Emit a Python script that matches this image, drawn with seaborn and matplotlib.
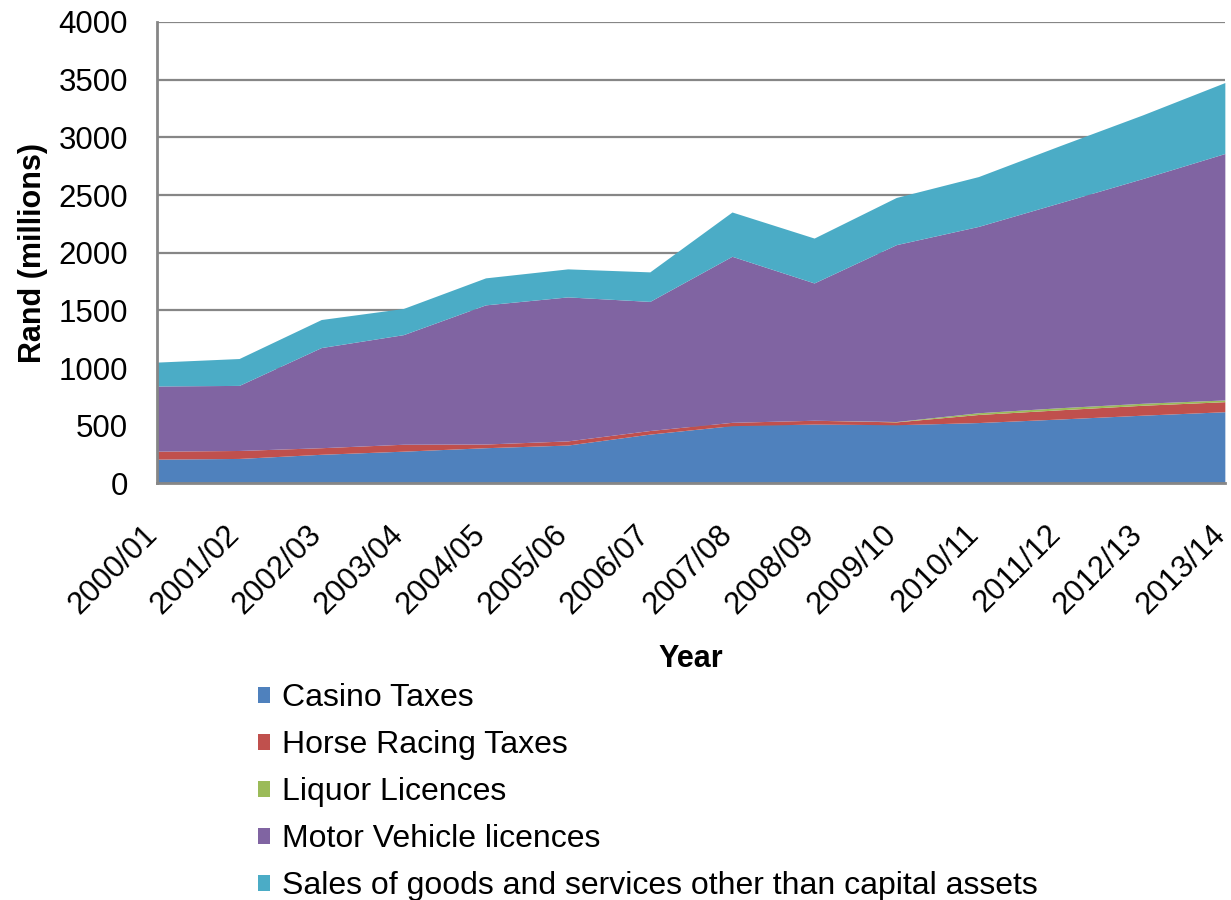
import matplotlib
matplotlib.use("Agg")
import matplotlib.pyplot as plt
import matplotlib.transforms as mtransforms
import seaborn as sns
import pandas as pd

# Provincial own revenue by source, Rand millions
years = ["2000/01", "2001/02", "2002/03", "2003/04", "2004/05", "2005/06", "2006/07",
         "2007/08", "2008/09", "2009/10", "2010/11", "2011/12", "2012/13", "2013/14"]
casino_taxes = [211, 217, 253, 280, 310, 333, 428, 501, 515, 509, 528, 559, 592, 622]
horse_racing_taxes = [69, 69, 57, 60, 32, 36, 31, 29, 33, 25, 70, 80, 86, 87]
liquor_licences = [0, 0, 0, 0, 0, 0, 0, 0, 0, 3, 15, 18, 17, 15]
motor_vehicle_licences = [565, 564, 868, 950, 1206, 1248, 1119, 1439, 1190, 1533, 1615, 1778, 1948, 2136]
sales_goods_services = [207, 233, 243, 227, 234, 243, 256, 384, 389, 409, 432, 495, 552, 615]

series_names = ["Casino Taxes", "Horse Racing Taxes", "Liquor Licences",
                "Motor Vehicle licences", "Sales of goods and services other than capital assets"]
series_colors = ["#4F81BD", "#C0504D", "#9BBB59", "#8064A2", "#4BACC6"]

df = pd.DataFrame({
    "Year": years,
    series_names[0]: casino_taxes,
    series_names[1]: horse_racing_taxes,
    series_names[2]: liquor_licences,
    series_names[3]: motor_vehicle_licences,
    series_names[4]: sales_goods_services,
})

sns.set_theme(style="white")
plt.rcParams["font.family"] = ["Liberation Sans", "DejaVu Sans"]
plt.rcParams["text.color"] = "black"
plt.rcParams["axes.labelcolor"] = "black"

fig = plt.figure(figsize=(12.31, 9), dpi=100)
ax = fig.add_axes([0.1275, 0.4628, 0.8675, 0.5128])

x = list(range(len(years)))
ax.stackplot(x, [df[n] for n in series_names], labels=series_names,
             colors=series_colors, linewidth=0, zorder=2)

ax.set_xlim(0, len(years) - 1)
ax.set_ylim(0, 4000)
ax.set_yticks(range(0, 4001, 500))
ax.set_xticks(x)

grid_color = "#868686"
ax.yaxis.grid(True, color=grid_color, linewidth=1.6, zorder=1)
ax.set_axisbelow(True)
for side in ("top", "right"):
    ax.spines[side].set_visible(False)
for side in ("left", "bottom"):
    ax.spines[side].set_color(grid_color)
    ax.spines[side].set_linewidth(2)
    ax.spines[side].set_zorder(3)

ax.tick_params(axis="y", length=0, pad=21, labelsize=22.5, colors="black")
ax.tick_params(axis="x", length=0, pad=26, labelsize=22.2, colors="black")
ax.set_xticklabels(years, rotation=45, ha="right", va="top", rotation_mode="anchor")

# nudge the rotated year labels so their ends sit on the ticks
shift = mtransforms.ScaledTranslation(-15 / 100, 0, fig.dpi_scale_trans)
for tick in ax.xaxis.get_major_ticks():
    tick.label1.set_transform(tick.label1.get_transform() + shift)

ax.set_ylabel("Rand (millions)", fontsize=22, fontweight="bold", labelpad=7)
ax.set_xlabel("Year", fontsize=22, fontweight="bold", labelpad=17)

fig.legend(loc="upper left", bbox_to_anchor=(0.2096, 0.2406), frameon=False,
           fontsize=23, handlelength=0.375, handleheight=0.375,
           handletextpad=0.375, labelspacing=0.53, borderaxespad=0, borderpad=0)

fig.savefig("out.png", dpi=100)
